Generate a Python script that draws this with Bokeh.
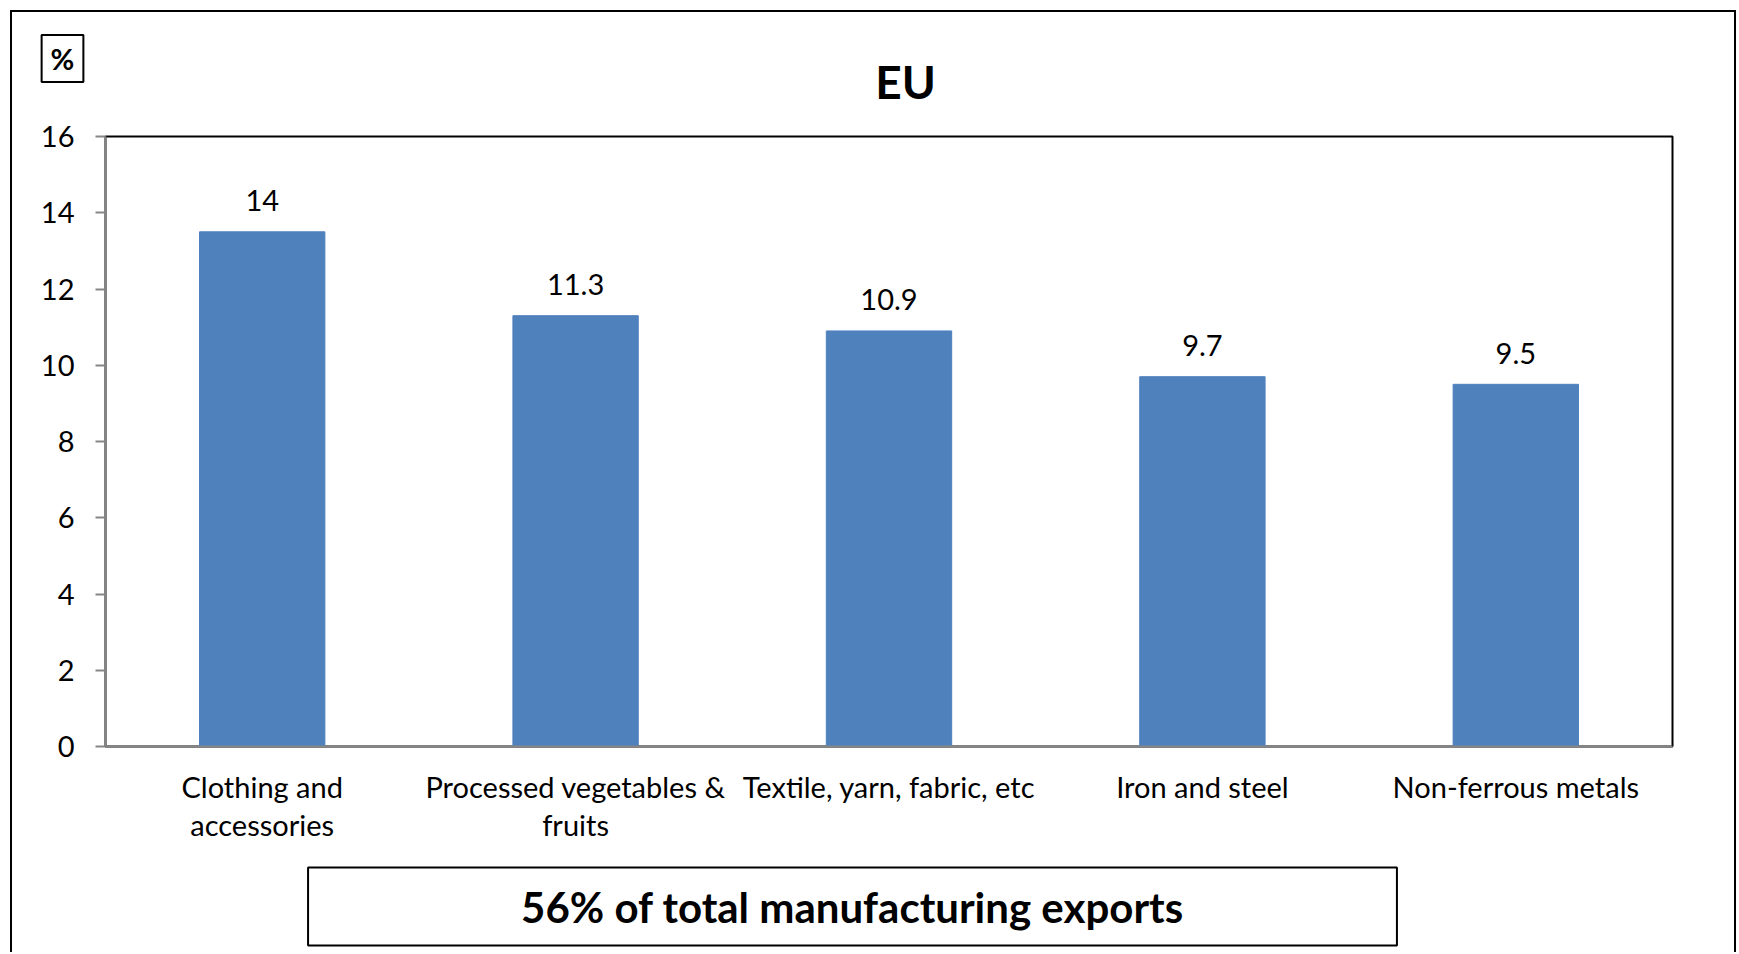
from bokeh.plotting import figure
from bokeh.models import FactorRange, Range1d, FixedTicker, Label, ColumnDataSource
from bokeh.core.properties import value
from bokeh.embed import file_html
from bokeh.resources import INLINE

# ---- data ----
categories = [
    "Clothing and\naccessories",
    "Processed vegetables &\nfruits",
    "Textile, yarn, fabric, etc",
    "Iron and steel",
    "Non-ferrous metals",
]
shares = [13.5, 11.3, 10.9, 9.7, 9.5]
share_labels = ["14", "11.3", "10.9", "9.7", "9.5"]
y_ticks = [0, 2, 4, 6, 8, 10, 12, 14, 16]
title_text = "EU"
unit_text = "%"
note_text = "56% of total manufacturing exports"

FONT = "Lato"
W, H = 1738, 952
FL, FT, FR, FB = 105, 136, 1672, 746   # frame edges on the canvas

src = ColumnDataSource(dict(cat=categories, val=shares, lab=share_labels))

p = figure(
    width=W, height=H,
    x_range=FactorRange(*categories),
    y_range=Range1d(0, 16),
    output_backend="svg",
    toolbar_location=None,
    min_border_left=FL, min_border_right=W - FR,
    min_border_top=FT, min_border_bottom=H - FB,
)
p.title.visible = False
p.background_fill_color = "white"
p.border_fill_color = "white"
p.outline_line_color = "black"
p.outline_line_width = 2
p.xgrid.grid_line_color = None
p.ygrid.grid_line_color = None

p.vbar(x="cat", top="val", width=0.4, source=src,
       fill_color="#4F81BD", line_color="#4F81BD")

p.text(x="cat", y="val", text="lab", source=src,
       text_align="center", text_baseline="alphabetic", y_offset=-31,
       text_font=value(FONT), text_font_size="29px", text_color="black")

# y axis
ya = p.yaxis[0]
ya.ticker = FixedTicker(ticks=y_ticks)
ya.major_tick_out = 10
ya.major_tick_in = 0
ya.minor_tick_line_color = None
ya.axis_line_color = "#868686"
ya.axis_line_width = 2
ya.major_tick_line_color = "#868686"
ya.major_tick_line_width = 2
ya.major_label_text_font = FONT
ya.major_label_text_font_size = "29px"
ya.major_label_text_color = "black"
ya.major_label_standoff = 21

# x axis
xa = p.xaxis[0]
xa.major_tick_line_color = None
xa.minor_tick_line_color = None
xa.axis_line_color = "#868686"
xa.axis_line_width = 2
xa.major_label_text_font = FONT
xa.major_label_text_font_size = "29px"
xa.major_label_text_color = "black"
xa.major_label_text_line_height = 1.1
xa.major_label_standoff = 16

# texts outside the frame: labels placed in side panels, canvas coordinates
def label(x, y, text, size, pad=None):
    kw = {}
    if pad is not None:
        kw = dict(padding=pad, border_line_color="black", border_line_width=2,
                  background_fill_color=None)
    return Label(x=x, y=y, x_units="canvas", y_units="canvas",
                 text=text, text_align="center", text_baseline="middle",
                 text_font=FONT, text_font_style="bold", text_font_size=size,
                 text_color="black", **kw)

# padding order: (left, right, top, bottom)
p.add_layout(label(905, 81, title_text, "46px"), "above")
p.add_layout(label(62, 58, unit_text, "29px", (9, 9, 6, 6)), "above")
p.add_layout(label(852, 906, note_text, "42px", (213, 213, 14, 14)), "below")

# outer page frame
p.stylesheets = [
    ":host { position: relative; }"
    ":host::after { content: ''; position: absolute; left: 10px; top: 10px;"
    " width: 1726px; height: 942px; box-sizing: border-box;"
    " border: 2.5px solid black; border-bottom: none;"
    " pointer-events: none; z-index: 10; }"
]

open("out.html", "w").write(file_html(p, INLINE))
